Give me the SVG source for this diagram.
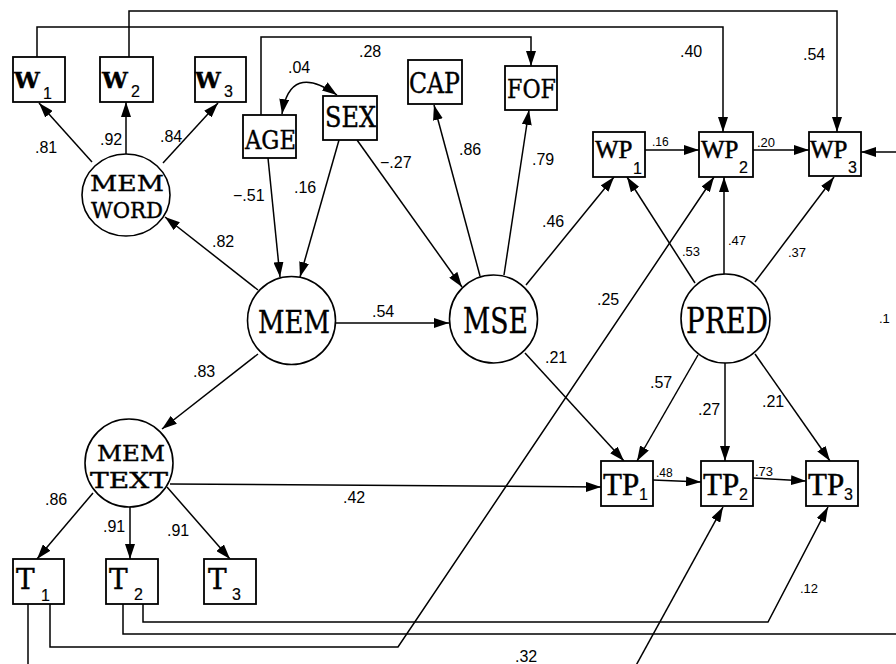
<svg xmlns="http://www.w3.org/2000/svg" width="896" height="664" viewBox="0 0 896 664">
<defs>
<marker id="ah" viewBox="0 0 15 10" refX="15" refY="5" markerWidth="15" markerHeight="10" markerUnits="userSpaceOnUse" orient="auto-start-reverse">
<path d="M0,0 L15,5 L0,10 z" fill="#000"/>
</marker>
<style>
.box{fill:#fff;stroke:#000;stroke-width:1.8}
.circ{fill:#fff;stroke:#000;stroke-width:1.6}
.ln{fill:none;stroke:#000;stroke-width:1.5}
.arr{fill:none;stroke:#000;stroke-width:1.5;marker-end:url(#ah)}
.nl{font-family:"DejaVu Serif","Liberation Serif",serif;fill:#000;stroke:#000;stroke-width:0.4}
.tp{font-family:"Liberation Serif","DejaVu Serif",serif;fill:#000;stroke:#000;stroke-width:0.5}
.sub{font-family:"Liberation Sans",Arial,sans-serif;font-size:16px;stroke-width:0.2;font-weight:normal}
.el{font-family:"Liberation Sans",Arial,sans-serif;font-size:16px;fill:#000}
.es{font-family:"Liberation Sans",Arial,sans-serif;font-size:13px;fill:#000}
</style>
</defs>
<rect width="896" height="664" fill="#fff"/>

<g id="connectors">
<path class="arr" d="M37,57 V27 H723 V132"/>
<path class="arr" d="M129,57 V11 H837 V132"/>
<path class="arr" d="M261,115 V37 H531 V66"/>
<path class="arr" d="M92,162 L39,103"/>
<path class="arr" d="M126,155 V102"/>
<path class="arr" d="M163,163 L218,103"/>
<path class="arr" d="M282,114 Q290,62 337,95" style="marker-start:url(#ah)"/>
<path class="arr" d="M268,158 L280,277"/>
<path class="arr" d="M339,140 L300,277"/>
<path class="arr" d="M357,140 L462,287"/>
<path class="arr" d="M480,276 L434,105"/>
<path class="arr" d="M504,275 L529,110"/>
<path class="arr" d="M526,285 L614,177"/>
<path class="arr" d="M695,283 L627,177"/>
<path class="arr" d="M724,274 V177"/>
<path class="arr" d="M755,282 L834,177"/>
<path class="arr" d="M50,604 V647 H398 L714,177"/>
<path class="ln" d="M28,604 V680"/>
<path class="arr" d="M628,680 L723,507"/>
<path class="ln" d="M123,604 V634 H900"/>
<path class="arr" d="M143,604 V622 H768 L828,507"/>
<path class="arr" d="M900,152 H861"/>
<path class="arr" d="M258,290 L165,217"/>
<path class="arr" d="M336,323 H449"/>
<path class="arr" d="M258,354 L162,429"/>
<path class="arr" d="M93,493 L37,559"/>
<path class="arr" d="M130,507 V559"/>
<path class="arr" d="M167,487 L230,559"/>
<path class="arr" d="M170,484 L601,487"/>
<path class="arr" d="M525,353 L624,461"/>
<path class="arr" d="M698,355 L637,461"/>
<path class="arr" d="M725,363 V461"/>
<path class="arr" d="M755,354 L830,461"/>
<path class="arr" d="M653,480 L701,482"/>
<path class="arr" d="M753,478 L806,481"/>
<path class="arr" d="M645,150 H699"/>
<path class="arr" d="M753,150 H809"/>
</g>

<g id="labels">
<text class="el" x="35" y="153">.81</text>
<text class="el" x="100" y="145">.92</text>
<text class="el" x="160" y="142">.84</text>
<text class="el" x="288" y="73">.04</text>
<text class="el" x="359" y="57">.28</text>
<text class="el" x="380" y="168">−.27</text>
<text class="el" x="459" y="155">.86</text>
<text class="el" x="532" y="165">.79</text>
<text class="el" x="233" y="201">−.51</text>
<text class="el" x="294" y="193">.16</text>
<text class="el" x="542" y="227">.46</text>
<text class="es" x="682" y="256">.53</text>
<text class="es" x="728" y="245">.47</text>
<text class="es" x="788" y="257">.37</text>
<text class="el" x="597" y="305">.25</text>
<text class="el" x="545" y="363">.21</text>
<text class="el" x="650" y="388">.57</text>
<text class="el" x="698" y="415">.27</text>
<text class="el" x="762" y="407">.21</text>
<text class="el" x="212" y="247">.82</text>
<text class="el" x="372" y="317">.54</text>
<text class="el" x="193" y="377">.83</text>
<text class="el" x="45" y="505">.86</text>
<text class="el" x="103" y="532">.91</text>
<text class="el" x="167" y="536">.91</text>
<text class="el" x="343" y="503">.42</text>
<text class="es" x="656" y="477" style="font-size:12px">.48</text>
<text class="es" x="755" y="476">.73</text>
<text class="es" x="800" y="593">.12</text>
<text class="el" x="515" y="662">.32</text>
<text class="es" x="652" y="146" style="font-size:12px">.16</text>
<text class="es" x="757" y="147">.20</text>
<text class="el" x="680" y="57">.40</text>
<text class="el" x="803" y="60">.54</text>
<text class="es" x="879" y="323">.1</text>
</g>

<g id="W1"><rect class="box" x="13" y="57" width="52" height="45"/><text class="nl" x="14" y="88" font-size="23" font-weight="bold">W<tspan class="sub" x="43" y="99">1</tspan></text></g>
<g id="W2"><rect class="box" x="100" y="57" width="53" height="45"/><text class="nl" x="102" y="88" font-size="23" font-weight="bold">W<tspan class="sub" x="131" y="97">2</tspan></text></g>
<g id="W3"><rect class="box" x="195" y="57" width="51" height="45"/><text class="nl" x="195" y="88" font-size="23" font-weight="bold">W<tspan class="sub" x="224" y="97">3</tspan></text></g>
<g id="AGE"><rect class="box" x="243" y="115" width="53" height="43"/><text class="nl" x="245" y="149" font-size="26" textLength="51" lengthAdjust="spacingAndGlyphs">AGE</text></g>
<g id="SEX"><rect class="box" x="323" y="96" width="54" height="44"/><text class="nl" x="325" y="127" font-size="27" textLength="51" lengthAdjust="spacingAndGlyphs">SEX</text></g>
<g id="CAP"><rect class="box" x="408" y="60" width="54" height="44"/><text class="nl" x="409" y="93" font-size="27" textLength="51" lengthAdjust="spacingAndGlyphs">CAP</text></g>
<g id="FOF"><rect class="box" x="505" y="66" width="52" height="44"/><text class="nl" x="507" y="98" font-size="26" textLength="49" lengthAdjust="spacingAndGlyphs">FOF</text></g>
<g id="WP1"><rect class="box" x="593" y="132" width="52" height="45"/><text class="tp" x="595" y="158" font-size="25">WP<tspan class="sub" x="633" y="174">1</tspan></text></g>
<g id="WP2"><rect class="box" x="699" y="132" width="54" height="45"/><text class="tp" x="701" y="158" font-size="25">WP<tspan class="sub" x="739" y="173">2</tspan></text></g>
<g id="WP3"><rect class="box" x="809" y="132" width="52" height="44"/><text class="tp" x="810" y="158" font-size="25">WP<tspan class="sub" x="848" y="173">3</tspan></text></g>

<g id="MEMWORD"><ellipse class="circ" cx="126" cy="195" rx="44" ry="41"/><text class="nl" font-size="23"><tspan x="90" y="191" textLength="74" lengthAdjust="spacingAndGlyphs">MEM</tspan><tspan x="91" y="218" textLength="72" lengthAdjust="spacingAndGlyphs">WORD</tspan></text></g>
<g id="MEM"><circle class="circ" cx="291.5" cy="320.5" r="44"/><text class="nl" x="258" y="333" font-size="32" textLength="72" lengthAdjust="spacingAndGlyphs">MEM</text></g>
<g id="MSE"><circle class="circ" cx="493.5" cy="319" r="44"/><text class="nl" x="463" y="333" font-size="35" textLength="65" lengthAdjust="spacingAndGlyphs">MSE</text></g>
<g id="PRED"><circle class="circ" cx="725.5" cy="318.5" r="44.5"/><text class="nl" x="686" y="333" font-size="35" textLength="82" lengthAdjust="spacingAndGlyphs">PRED</text></g>
<g id="MEMTEXT"><circle class="circ" cx="129" cy="463" r="44"/><text class="nl" font-size="23"><tspan x="97" y="461" textLength="68" lengthAdjust="spacingAndGlyphs">MEM</tspan><tspan x="90" y="488" textLength="78" lengthAdjust="spacingAndGlyphs">TEXT</tspan></text></g>

<g id="T1"><rect class="box" x="13" y="559" width="51" height="45"/><text class="nl" x="16" y="589" font-size="28">T<tspan class="sub" x="41" y="601">1</tspan></text></g>
<g id="T2"><rect class="box" x="106" y="559" width="52" height="45"/><text class="nl" x="109" y="589" font-size="28">T<tspan class="sub" x="134" y="600">2</tspan></text></g>
<g id="T3"><rect class="box" x="204" y="559" width="52" height="45"/><text class="nl" x="208" y="589" font-size="28">T<tspan class="sub" x="232" y="600">3</tspan></text></g>
<g id="TP1"><rect class="box" x="601" y="461" width="52" height="45"/><text class="tp" x="603" y="495" font-size="31">TP<tspan class="sub" x="639" y="500">1</tspan></text></g>
<g id="TP2"><rect class="box" x="701" y="461" width="52" height="45"/><text class="tp" x="703" y="495" font-size="31">TP<tspan class="sub" x="739" y="500">2</tspan></text></g>
<g id="TP3"><rect class="box" x="806" y="461" width="52" height="45"/><text class="tp" x="808" y="495" font-size="31">TP<tspan class="sub" x="844" y="500">3</tspan></text></g>
</svg>
